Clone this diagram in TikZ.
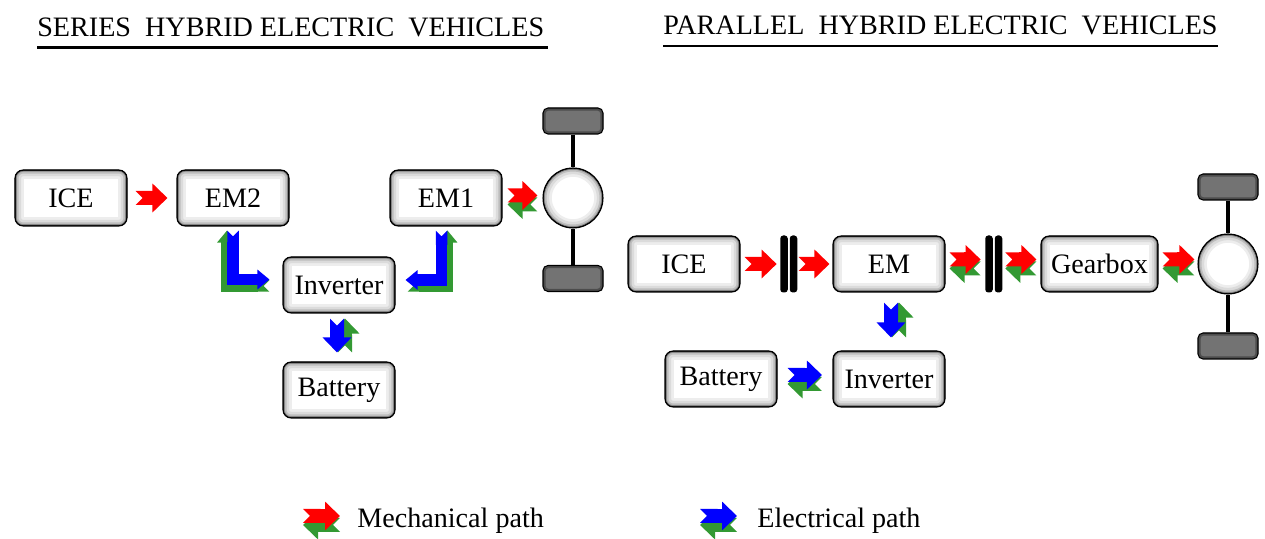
\documentclass[tikz,border=0pt]{standalone}
\usepackage{fontspec}
\setmainfont{Liberation Serif}
\usepackage{tikz}
\usetikzlibrary{arrows.meta}
\definecolor{mechred}{RGB}{255,0,0}
\definecolor{elecblue}{RGB}{0,0,255}
\definecolor{backgreen}{RGB}{51,153,51}
\tikzset{
	hevstyle/.style={
		line join=miter,
		every node/.style={font=\fontsize{16}{19}\selectfont}}}

\begin{document}
\begin{tikzpicture}[hevstyle,
	unit/.style={draw, line width=0.6pt, rounded corners=1.6mm, fill=white,
		minimum width=2.24cm, minimum height=1.12cm, inner sep=0pt,
		path picture={\foreach \w/\c in {10pt/7,7pt/14,4pt/26,2pt/48,0.8pt/100}
			\draw[black!\c, line width=\w, rounded corners=1.6mm]
			(path picture bounding box.south west) rectangle (path picture bounding box.north east);}},
	wheel/.style={circle, draw, line width=0.6pt, fill=white, minimum size=1.2cm, inner sep=0pt,
		path picture={\foreach \w/\c in {10pt/7,7pt/14,4pt/26,2pt/48,0.8pt/100}
			\draw[black!\c, line width=\w] (path picture bounding box.center) circle[radius=0.6cm];}},
	tyre/.style={draw, line width=0.6pt, rounded corners=1mm, fill=black!55,
		minimum width=1.2cm, minimum height=0.52cm, inner sep=0pt,
		path picture={\draw[black!70, line width=3pt, rounded corners=1mm]
			(path picture bounding box.south west) rectangle (path picture bounding box.north east);}},
	plate/.style={fill=black, rounded corners=0.6mm, minimum width=0.15cm, minimum height=1.14cm, inner sep=0pt},
	axle/.style={line width=0.8mm},
	title/.style={anchor=base west, inner sep=0pt},
	rule/.style={line width=1.2pt},
	legend/.style={anchor=west, inner sep=0pt},
	mech/.style={draw=mechred, line width=2.8mm, {Triangle Cap[reversed]}-{Triangle[length=3mm,width=5.6mm]}},
	mechback/.style={mech, draw=backgreen},
	elec/.style={mech, draw=elecblue},
	elecback/.style={mech, draw=backgreen},
	elecL/.style={draw=elecblue, line width=2.3mm, {Triangle Cap[reversed]}-{Triangle[length=2.4mm,width=3.8mm]}},
	elecLback/.style={elecL, draw=backgreen},
	]
	\useasboundingbox (0,0) rectangle (25.3,-10.78);
	
	\node[title] (ttlser) at (0.74,-0.74) {SERIES\ \ HYBRID ELECTRIC\ \ VEHICLES};
	\node[title] (ttlpar) at (13.26,-0.70) {PARALLEL\ \ HYBRID ELECTRIC\ \ VEHICLES};
	\draw[rule] ([yshift=-0.21cm]ttlser.base west) -- ++(10.22,0);
	\draw[rule] ([yshift=-0.22cm]ttlpar.base west) -- ++(11.1,0);
	
	\node[unit] (ice1) at (1.42,-3.96) {ICE};
	\node[unit] (em2) at (4.66,-3.96) {EM2};
	\node[unit] (em1) at (8.92,-3.96) {EM1};
	\node[unit] (inv1) at (6.78,-5.70) {Inverter};
	\node[unit] (bat1) at (6.78,-7.80) {Battery};
	
	\node[tyre] (tt1) at (11.46,-2.42) {};
	\node[tyre] (tb1) at (11.46,-5.57) {};
	\node[wheel] (wheel1) at (11.46,-3.96) {};
	\draw[axle] (tt1) -- (wheel1);
	\draw[axle] (wheel1) -- (tb1);
	
	\draw[mech] ([xshift=0.16cm]ice1.east) -- ([xshift=-0.18cm]em2.west);
	\draw[mechback] ([shift={(-0.10cm,-0.13cm)}]wheel1.west) -- ([shift={(0.10cm,-0.13cm)}]em1.east);
	\draw[mech] ([shift={(0.10cm,0.05cm)}]em1.east) -- ([shift={(-0.10cm,0.05cm)}]wheel1.west);
	
	\draw[elecLback] ([shift={(-0.26cm,-0.02cm)}]inv1.west) -| ([shift={(-0.12cm,-0.08cm)}]em2.south);
	\draw[elecL] ([yshift=-0.08cm]em2.south) |- ([shift={(-0.26cm,0.11cm)}]inv1.west);
	\draw[elecLback] ([shift={(0.24cm,-0.02cm)}]inv1.east) -| ([shift={(0.03cm,-0.08cm)}]em1.south);
	\draw[elecL] ([shift={(-0.09cm,-0.08cm)}]em1.south) |- ([shift={(0.20cm,0.10cm)}]inv1.east);
	
	\draw[elecback] ([shift={(0.12cm,0.18cm)}]bat1.north) -- ([shift={(0.12cm,-0.10cm)}]inv1.south);
	\draw[elec] ([shift={(-0.04cm,-0.10cm)}]inv1.south) -- ([shift={(-0.04cm,0.18cm)}]bat1.north);
	
	\node[unit] (ice2) at (13.68,-5.28) {ICE};
	\node[plate] (cl1a) at (15.68,-5.28) {};
	\node[plate] (cl1b) at (15.87,-5.28) {};
	\node[unit] (em) at (17.78,-5.28) {EM};
	\node[plate] (cl2a) at (19.78,-5.28) {};
	\node[plate] (cl2b) at (19.97,-5.28) {};
	\node[unit, minimum width=2.34cm] (gbox) at (21.99,-5.28) {Gearbox};
	\node[unit] (bat2) at (14.42,-7.58) {Battery};
	\node[unit] (inv2) at (17.78,-7.58) {Inverter};
	
	\node[tyre] (tt2) at (24.56,-3.74) {};
	\node[tyre] (tb2) at (24.56,-6.92) {};
	\node[wheel] (wheel2) at (24.56,-5.28) {};
	\draw[axle] (tt2) -- (wheel2);
	\draw[axle] (wheel2) -- (tb2);
	
	\draw[mech] ([xshift=0.08cm]ice2.east) -- ([xshift=-0.065cm]cl1a.west);
	\draw[mech] ([xshift=0.02cm]cl1b.east) -- ([xshift=-0.06cm]em.west);
	\draw[mechback] ([shift={(-0.085cm,-0.09cm)}]cl2a.west) -- ([shift={(0.08cm,-0.09cm)}]em.east);
	\draw[mech] ([shift={(0.08cm,0.09cm)}]em.east) -- ([shift={(-0.085cm,0.09cm)}]cl2a.west);
	\draw[mechback] ([shift={(-0.08cm,-0.09cm)}]gbox.west) -- ([shift={(0.055cm,-0.09cm)}]cl2b.east);
	\draw[mech] ([shift={(0.055cm,0.09cm)}]cl2b.east) -- ([shift={(-0.08cm,0.09cm)}]gbox.west);
	\draw[mechback] ([shift={(-0.06cm,-0.09cm)}]wheel2.west) -- ([shift={(0.08cm,-0.09cm)}]gbox.east);
	\draw[mech] ([shift={(0.08cm,0.09cm)}]gbox.east) -- ([shift={(-0.06cm,0.09cm)}]wheel2.west);
	
	\draw[elecback] ([shift={(0.20cm,0.26cm)}]inv2.north) -- ([shift={(0.20cm,-0.20cm)}]em.south);
	\draw[elec] ([shift={(0.04cm,-0.20cm)}]em.south) -- ([shift={(0.04cm,0.26cm)}]inv2.north);
	\draw[elecback] ([shift={(-0.21cm,-0.10cm)}]inv2.west) -- ([shift={(0.20cm,-0.10cm)}]bat2.east);
	\draw[elec] ([shift={(0.20cm,0.08cm)}]bat2.east) -- ([shift={(-0.21cm,0.08cm)}]inv2.west);
	
	\node[legend] (lmech) at (7.14,-10.42) {Mechanical path};
	\node[legend] (lelec) at (15.14,-10.42) {Electrical path};
	\draw[mechback] ([shift={(-0.34cm,-0.08cm)}]lmech.west) -- ([shift={(-1.08cm,-0.08cm)}]lmech.west);
	\draw[mech] ([shift={(-1.08cm,0.10cm)}]lmech.west) -- ([shift={(-0.34cm,0.10cm)}]lmech.west);
	\draw[elecback] ([shift={(-0.40cm,-0.08cm)}]lelec.west) -- ([shift={(-1.14cm,-0.08cm)}]lelec.west);
	\draw[elec] ([shift={(-1.14cm,0.10cm)}]lelec.west) -- ([shift={(-0.40cm,0.10cm)}]lelec.west);
	
\end{tikzpicture}
\end{document}
